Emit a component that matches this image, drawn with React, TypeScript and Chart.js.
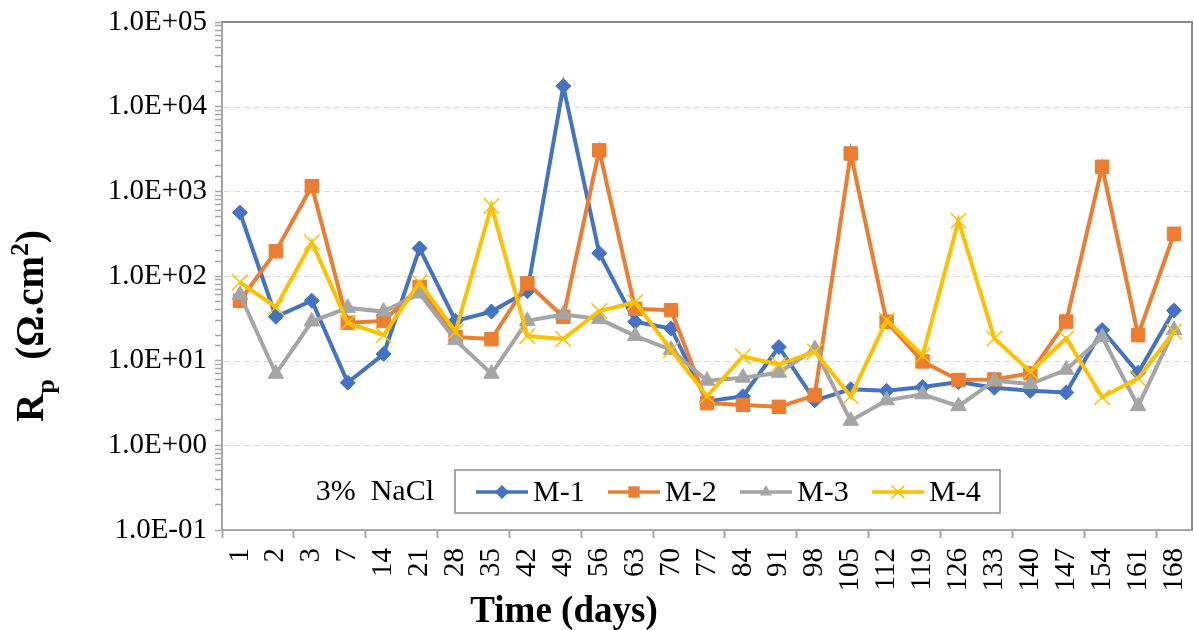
import { useEffect, useRef } from "react";
import { Chart, registerables } from "chart.js";

Chart.register(...registerables);

const days = ["1", "2", "3", "7", "14", "21", "28", "35", "42", "49", "56", "63", "70", "77", "84", "91", "98", "105", "112", "119", "126", "133", "140", "147", "154", "161", "168"];

const m1 = [560, 33, 51, 5.5, 12, 212, 29.5, 38, 66, 17500, 186, 28.8, 24, 3.3, 3.8, 14.5, 3.4, 4.6, 4.4, 4.9, 5.6, 4.8, 4.4, 4.2, 23, 7.2, 39];
const m2 = [51, 196, 1150, 28, 29.5, 74, 19, 18, 82, 33, 3050, 41, 39.5, 3.15, 3.0, 2.85, 3.9, 2800, 28.8, 9.8, 5.9, 6.0, 7.1, 29, 1950, 20, 315];
const m3 = [60, 7.0, 29, 42, 38, 62, 17.5, 7.0, 29.5, 35, 31, 19.6, 13.4, 5.8, 6.3, 7.2, 13.7, 1.95, 3.4, 4.0, 2.9, 5.8, 5.3, 7.8, 19, 2.9, 23];
const m4 = [84, 43, 250, 28, 20, 84, 22, 670, 19.5, 18, 38.5, 49, 13.4, 3.8, 11.2, 9.0, 12.8, 3.8, 30, 11.5, 450, 18.3, 7.4, 18.3, 3.7, 6.2, 22];

const seriesNames = ["M-1", "M-2", "M-3", "M-4"];
const yMin = 0.1;
const yMax = 100000;
const noteText = "3%  NaCl";
const xTitle = "Time (days)";

const FONT = "'Liberation Serif', 'Times New Roman', serif";

function fmtExp(v: number): string {
  const e = Math.round(Math.log10(v));
  if (Math.abs(v / Math.pow(10, e) - 1) > 1e-6) return "";
  const sign = e < 0 ? "-" : "+";
  return "1.0E" + sign + String(Math.abs(e)).padStart(2, "0");
}

function drawMarker(ctx: CanvasRenderingContext2D, style: string, x: number, y: number, r: number, color: string) {
  ctx.save();
  ctx.fillStyle = color;
  ctx.strokeStyle = color;
  ctx.lineWidth = 1.5;
  ctx.beginPath();
  if (style === "rectRot") {
    ctx.moveTo(x, y - r);
    ctx.lineTo(x + r, y);
    ctx.lineTo(x, y + r);
    ctx.lineTo(x - r, y);
    ctx.closePath();
    ctx.fill();
  } else if (style === "rect") {
    const s = r * Math.SQRT1_2;
    ctx.rect(x - s, y - s, 2 * s, 2 * s);
    ctx.fill();
  } else if (style === "triangle") {
    ctx.moveTo(x, y - r);
    ctx.lineTo(x + r * 0.866, y + r * 0.5);
    ctx.lineTo(x - r * 0.866, y + r * 0.5);
    ctx.closePath();
    ctx.fill();
  } else {
    const d = r * Math.SQRT1_2;
    ctx.moveTo(x - d, y - d);
    ctx.lineTo(x + d, y + d);
    ctx.moveTo(x + d, y - d);
    ctx.lineTo(x - d, y + d);
    ctx.stroke();
  }
  ctx.restore();
}

const decorPlugin = {
  id: "decor",
  beforeDatasetsDraw(chart: any) {
    const { ctx, chartArea, scales } = chart;
    const y = scales.y;
    ctx.save();
    ctx.strokeStyle = "#d9d9d9";
    ctx.lineWidth = 1;
    ctx.setLineDash([6, 4]);
    for (let e = -1; e <= 5; e++) {
      const v = Math.pow(10, e);
      if (v <= yMin || v >= yMax) continue;
      const py = Math.round(y.getPixelForValue(v)) + 0.5;
      ctx.beginPath();
      ctx.moveTo(chartArea.left + 2, py);
      ctx.lineTo(chartArea.right, py);
      ctx.stroke();
    }
    ctx.setLineDash([]);
    ctx.strokeStyle = "#8c8c8c";
    ctx.lineWidth = 2;
    ctx.beginPath();
    ctx.moveTo(chartArea.left, chartArea.top);
    ctx.lineTo(chartArea.right, chartArea.top);
    ctx.lineTo(chartArea.right, chartArea.bottom);
    ctx.stroke();
    ctx.restore();
  },
  afterDraw(chart: any) {
    const { ctx } = chart;
    ctx.save();
    ctx.fillStyle = "#000";
    ctx.font = `bold 37px ${FONT}`;
    ctx.textAlign = "center";
    ctx.textBaseline = "middle";
    ctx.fillText(xTitle, 564, 612);

    const big = 39;
    const small = 26;
    const segs = [
      { t: "R", s: big, dy: 0 },
      { t: "p", s: small, dy: 0.28 * big },
      { t: "  (\u03A9.cm", s: big, dy: 0 },
      { t: "2", s: small, dy: -0.38 * big },
      { t: ")", s: big, dy: 0 },
    ];
    let total = 0;
    for (const sg of segs) {
      ctx.font = `bold ${sg.s}px ${FONT}`;
      total += ctx.measureText(sg.t).width;
    }
    ctx.translate(30, 326);
    ctx.rotate(-Math.PI / 2);
    ctx.textAlign = "left";
    ctx.textBaseline = "alphabetic";
    let x = -total / 2;
    for (const sg of segs) {
      ctx.font = `bold ${sg.s}px ${FONT}`;
      ctx.fillText(sg.t, x, 0.33 * big + sg.dy);
      x += ctx.measureText(sg.t).width;
    }
    ctx.restore();

    ctx.save();
    ctx.fillStyle = "#000";
    ctx.font = `30px ${FONT}`;
    ctx.textAlign = "right";
    ctx.textBaseline = "middle";
    ctx.fillText(noteText, 434, 492);

    ctx.strokeStyle = "#8c8c8c";
    ctx.lineWidth = 1.5;
    ctx.fillStyle = "#fff";
    ctx.fillRect(455, 470, 545, 43);
    ctx.strokeRect(455, 470, 545, 43);

    const starts = [476, 608, 740, 872];
    chart.data.datasets.forEach((ds: any, i: number) => {
      const sx = starts[i];
      const ly = 492;
      ctx.strokeStyle = ds.borderColor;
      ctx.lineWidth = 3.5;
      ctx.beginPath();
      ctx.moveTo(sx, ly);
      ctx.lineTo(sx + 52, ly);
      ctx.stroke();
      const r = ds.pointStyle === "crossRot" ? 9 : ds.pointStyle === "rect" ? 8 : 7;
      drawMarker(ctx, ds.pointStyle, sx + 26, ly, r, ds.borderColor);
      ctx.fillStyle = "#000";
      ctx.font = `30px ${FONT}`;
      ctx.textAlign = "left";
      ctx.textBaseline = "middle";
      ctx.fillText(ds.label, sx + 57, ly + 1);
    });
    ctx.restore();
  },
};

export default function App() {
  const ref = useRef<HTMLCanvasElement | null>(null);
  useEffect(() => {
    if (!ref.current) return;
    const mk = (label: string, data: number[], color: string, pointStyle: string, radius: number, order: number) => ({
      label,
      data,
      borderColor: color,
      backgroundColor: color,
      pointBackgroundColor: color,
      pointBorderColor: color,
      pointStyle,
      pointRadius: radius,
      pointBorderWidth: pointStyle === "crossRot" ? 1.5 : 1,
      borderWidth: 4,
      tension: 0,
      order,
    });
    const chart = new Chart(ref.current, {
      type: "line",
      data: {
        labels: days,
        datasets: [
          mk(seriesNames[0], m1, "#4472C4", "rectRot", 7.5, 3),
          mk(seriesNames[1], m2, "#ED7D31", "rect", 9.5, 2),
          mk(seriesNames[2], m3, "#A5A5A5", "triangle", 9, 1),
          mk(seriesNames[3], m4, "#FFC000", "crossRot", 11, 0),
        ] as any,
      },
      options: {
        animation: false,
        responsive: false,
        devicePixelRatio: 1,
        layout: { autoPadding: false, padding: { top: 22, right: 2, left: 0, bottom: 0 } },
        plugins: { legend: { display: false }, tooltip: { enabled: false } },
        scales: {
          x: {
            type: "category",
            offset: true,
            grid: {
              offset: true,
              drawOnChartArea: false,
              tickLength: 8,
              tickWidth: 2,
              tickColor: (c: any) => (c.index !== undefined && c.index % 2 === 0 ? "#a6a6a6" : "rgba(0,0,0,0)"),
            },
            border: { color: "#a6a6a6", width: 2 },
            ticks: {
              autoSkip: false,
              minRotation: 90,
              maxRotation: 90,
              padding: 10,
              color: "#000",
              font: { family: FONT, size: 29 },
            },
            afterFit: (s: any) => {
              s.height = 100;
              s.paddingLeft = 0;
              s.paddingRight = 0;
            },
          },
          y: {
            type: "logarithmic",
            min: yMin,
            max: yMax,
            grid: {
              drawOnChartArea: false,
              tickLength: 7,
              tickWidth: 1.5,
              tickColor: "#a6a6a6",
            },
            border: { color: "#a6a6a6", width: 2 },
            ticks: {
              autoSkip: false,
              padding: 8,
              color: "#000",
              font: { family: FONT, size: 29 },
              callback: (v: any) => fmtExp(Number(v)),
            },
            afterFit: (s: any) => {
              s.width = 222;
              s.paddingTop = 0;
              s.paddingBottom = 0;
            },
          },
        },
      } as any,
      plugins: [decorPlugin],
    });
    return () => chart.destroy();
  }, []);
  return (
    <div style={{ position: "fixed", left: 0, top: 0, width: 1194, height: 630, background: "#fff" }}>
      <canvas ref={ref} width={1194} height={630} style={{ width: 1194, height: 630, display: "block" }} />
    </div>
  );
}
